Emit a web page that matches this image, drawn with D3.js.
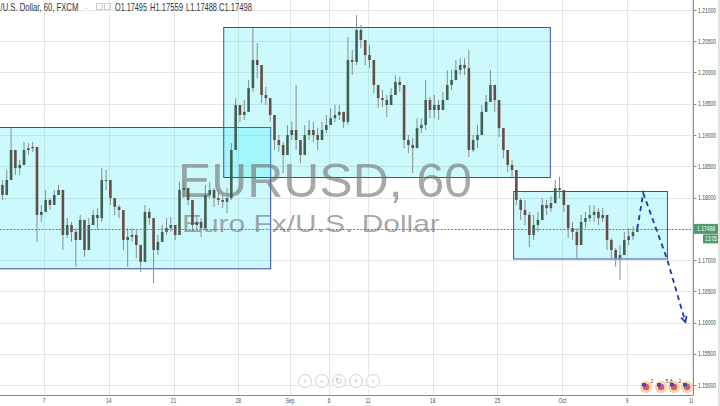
<!DOCTYPE html>
<html><head><meta charset="utf-8">
<script src="https://cdn.jsdelivr.net/npm/d3@7"></script>
<style>html,body{margin:0;padding:0;background:#fff;overflow:hidden}svg{display:block;font-family:"Liberation Sans",Arial,sans-serif}</style>
</head><body><svg id="c" width="720" height="406"></svg>
<script>
// ---- DATA (EUR/USD, hourly chart; bars sampled every 8 trading hours, hour 0 = Mon 7 Aug) ----
const barFirstHour = -85;
const barStepHours = 8;
const firstOpen = 1.1812;
const closes = [1.1820,1.1804,1.1828,1.1876,1.1847,1.1852,1.1876,1.1879,1.1881,1.1772,
1.1777,1.1796,1.1788,1.1804,1.1812,1.1740,1.1756,1.1745,1.1732,1.1764,
1.1716,1.1756,1.1772,1.1767,1.1828,1.1828,1.1799,1.1785,1.1780,1.1732,
1.1737,1.1740,1.1724,1.1697,1.1777,1.1767,1.1716,1.1729,1.1745,1.1751,
1.1756,1.1740,1.1812,1.1815,1.1796,1.1756,1.1761,1.1751,1.1804,1.1812,
1.1799,1.1796,1.1793,1.1799,1.1876,1.1948,1.1932,1.1937,1.1975,1.2020,
1.2012,1.1964,1.1959,1.1932,1.1892,1.1884,1.1868,1.1900,1.1908,1.1892,
1.1868,1.1900,1.1908,1.1900,1.1892,1.1908,1.1916,1.1927,1.1932,1.1937,
1.1921,1.2020,1.2017,1.2068,1.2052,1.2028,1.2020,1.1980,1.1959,1.1956,
1.1948,1.1964,1.1985,1.1980,1.1892,1.1884,1.1879,1.1911,1.1916,1.1956,
1.1940,1.1948,1.1940,1.1956,1.1980,1.1988,1.2004,1.2012,1.2007,1.1876,
1.1892,1.1900,1.1937,1.1953,1.1980,1.1956,1.1911,1.1876,1.1852,1.1844,
1.1796,1.1780,1.1772,1.1740,1.1756,1.1764,1.1788,1.1783,1.1791,1.1815,
1.1812,1.1788,1.1751,1.1745,1.1724,1.1761,1.1767,1.1772,1.1777,1.1767,
1.1772,1.1732,1.1716,1.1703,1.1708,1.1732,1.1738,1.1745,1.17498];
const highs = [1.1836,1.1828,1.1844,1.1911,1.1860,1.1860,1.1889,1.1887,1.1889,1.1876,
1.1788,1.1812,1.1799,1.1812,1.1820,1.1809,1.1767,1.1761,1.1751,1.1772,
1.1756,1.1767,1.1780,1.1783,1.1847,1.1844,1.1820,1.1796,1.1788,1.1777,
1.1751,1.1751,1.1748,1.1724,1.1788,1.1783,1.1761,1.1740,1.1756,1.1767,
1.1769,1.1756,1.1825,1.1828,1.1815,1.1796,1.1772,1.1767,1.1820,1.1825,
1.1815,1.1812,1.1804,1.1815,1.1887,1.1959,1.1948,1.1956,1.1988,1.2071,
1.2047,1.1996,1.1977,1.1948,1.1911,1.1900,1.1889,1.1916,1.1921,1.1980,
1.1892,1.1916,1.1924,1.1921,1.1911,1.1921,1.1932,1.1943,1.1948,1.1948,
1.1937,1.2057,1.2036,1.2092,1.2076,1.2052,1.2044,1.2004,1.1975,1.1972,
1.1964,1.1975,1.1996,1.1994,1.1980,1.1900,1.1895,1.1927,1.1927,1.1988,
1.1961,1.1964,1.1956,1.1969,1.2004,1.2004,1.2020,1.2023,1.2023,1.2036,
1.1900,1.1916,1.1948,1.1964,1.2004,1.1980,1.1940,1.1900,1.1863,1.1860,
1.1841,1.1799,1.1796,1.1777,1.1772,1.1777,1.1799,1.1796,1.1802,1.1828,
1.1833,1.1812,1.1777,1.1761,1.1751,1.1772,1.1777,1.1788,1.1788,1.1783,
1.1783,1.1772,1.1735,1.1719,1.1724,1.1745,1.1751,1.1754,1.17559];
const lows = [1.1804,1.1796,1.1804,1.1836,1.1836,1.1836,1.1852,1.1868,1.1873,1.1729,
1.1761,1.1780,1.1780,1.1791,1.1804,1.1716,1.1735,1.1729,1.1689,1.1748,
1.1705,1.1732,1.1756,1.1748,1.1761,1.1812,1.1788,1.1772,1.1767,1.1716,
1.1689,1.1729,1.1703,1.1681,1.1697,1.1756,1.1663,1.1708,1.1729,1.1740,
1.1745,1.1732,1.1740,1.1799,1.1788,1.1745,1.1748,1.1737,1.1756,1.1799,
1.1785,1.1788,1.1783,1.1775,1.1796,1.1876,1.1921,1.1924,1.1964,1.1969,
1.1991,1.1951,1.1948,1.1921,1.1876,1.1873,1.1839,1.1876,1.1892,1.1876,
1.1855,1.1879,1.1892,1.1889,1.1876,1.1892,1.1903,1.1916,1.1921,1.1924,
1.1911,1.1916,1.1996,1.2012,1.2039,1.2012,1.2007,1.1967,1.1943,1.1945,
1.1929,1.1948,1.1964,1.1969,1.1879,1.1871,1.1839,1.1892,1.1903,1.1908,
1.1927,1.1927,1.1924,1.1940,1.1964,1.1972,1.1988,1.1996,1.1996,1.1865,
1.1873,1.1879,1.1924,1.1940,1.1956,1.1937,1.1897,1.1863,1.1841,1.1833,
1.1788,1.1764,1.1756,1.1721,1.1732,1.1745,1.1772,1.1772,1.1777,1.1796,
1.1799,1.1777,1.1735,1.1732,1.1703,1.1732,1.1751,1.1761,1.1761,1.1756,
1.1761,1.1716,1.1703,1.1689,1.1668,1.1708,1.1724,1.1732,1.17488];

const priceTicks = [1.15,1.155,1.16,1.165,1.17,1.175,1.18,1.185,1.19,1.195,1.20,1.205,1.21];
const timeTickLabels = ["7","14","21","28","Sep","6","11","18","25","Oct","9","16"];
const timeTickHours = [0,120,240,360,456,528,600,720,840,960,1080,1200];

// drawn zones (rectangles)
const zoneStartHour = [-200, 332, 869];
const zoneEndHour   = [419, 937, 1154];
const zoneTop       = [1.1913, 1.2073, 1.1810];
const zoneBottom    = [1.1687, 1.1833, 1.1702];

// projected path (dashed arrow)
const projHours  = [1099, 1110, 1154, 1188];
const projPrices = [1.17498, 1.1807, 1.1702, 1.1601];

const headerSymbol = "/U.S. Dollar, 60, FXCM";
const headerOHLC = ["O1.17495","H1.17559","L1.17488","C1.17498"];
const lastPrice = 1.17498;
const countdown = "13:05";
const watermarkMain = "EURUSD, 60";
const watermarkSub = "Euro Fx/U.S. Dollar";
const eventLabels = ["2","5.8","2"];

// ---- CHART ----
const svg = d3.select("#c");
const plotW = 693, plotH = 395;
const x = d3.scaleLinear().domain([0, 1200]).range([44, 691.8]);
const y = d3.scaleLinear().domain([1.15, 1.21]).range([385, 10]);

// helper: squeeze a text horizontally to a target width with a transform
function fitText(sel, x0, y0, target, anchor) {
  const w = sel.node().getComputedTextLength();
  const k = w > 0 ? target / w : 1;
  sel.attr("x", 0).attr("y", 0).attr("text-anchor", anchor || "start")
     .attr("transform", `translate(${x0},${y0}) scale(${k},1)`);
  return sel;
}

const defs = svg.append("defs");
defs.append("clipPath").attr("id","plot")
  .append("rect").attr("x",0).attr("y",0).attr("width",plotW).attr("height",plotH);
defs.append("clipPath").attr("id","plot2")
  .append("rect").attr("x",0).attr("y",plotH).attr("width",plotW).attr("height",20);

const plot = svg.append("g").attr("clip-path","url(#plot)");

// gridlines
plot.append("g").selectAll("line").data(priceTicks).join("line")
  .attr("x1",0).attr("x2",plotW).attr("y1",d=>Math.round(y(d))+0.5).attr("y2",d=>Math.round(y(d))+0.5)
  .attr("stroke","#e6e6e6").attr("stroke-width",1);
plot.append("g").selectAll("line").data(timeTickHours).join("line")
  .attr("x1",d=>Math.round(x(d))+0.5).attr("x2",d=>Math.round(x(d))+0.5).attr("y1",0).attr("y2",plotH)
  .attr("stroke","#e6e6e6").attr("stroke-width",1);

// zones
const zones = zoneStartHour.map((s,i)=>({s, e:zoneEndHour[i], t:zoneTop[i], b:zoneBottom[i]}));
plot.append("g").selectAll("rect").data(zones).join("rect")
  .attr("x",d=>x(d.s)+0.5).attr("y",d=>Math.round(y(d.t))+0.5)
  .attr("width",d=>x(d.e)-x(d.s)).attr("height",d=>y(d.b)-y(d.t))
  .attr("fill","rgba(0,229,240,0.2)").attr("stroke","#3a4bb3").attr("stroke-width",1);

// watermark
fitText(plot.append("text").attr("font-size",49).attr("fill","rgba(110,110,110,0.6)").text(watermarkMain), 178, 197, 294);
fitText(plot.append("text").attr("font-size",23).attr("fill","rgba(110,110,110,0.6)").text(watermarkSub), 182, 232, 258);

// candles
const bars = closes.map((c,i)=>{
  const o = i===0 ? firstOpen : closes[i-1];
  return {t: barFirstHour + i*barStepHours, o, c, h: Math.max(highs[i],o,c), l: Math.min(lows[i],o,c)};
});
const cg = plot.append("g");
cg.selectAll("line").data(bars).join("line")
  .attr("x1",d=>x(d.t)).attr("x2",d=>x(d.t)).attr("y1",d=>y(d.h)).attr("y2",d=>y(d.l))
  .attr("stroke","#848d8a").attr("stroke-width",1);
cg.selectAll("rect").data(bars).join("rect")
  .attr("x",d=>x(d.t)-1.3).attr("width",2.6)
  .attr("y",d=>y(Math.max(d.o,d.c)))
  .attr("height",d=>Math.max(1, Math.abs(y(d.o)-y(d.c))))
  .attr("fill",d=>d.c>=d.o?"#3f6153":"#6a4b44");

// last price dotted line
plot.append("line").attr("x1",0).attr("x2",plotW).attr("y1",Math.round(y(lastPrice))+0.5).attr("y2",Math.round(y(lastPrice))+0.5)
  .attr("stroke","#6d6d6d").attr("stroke-width",1).attr("stroke-dasharray","1.5,2");

// projection
const proj = projHours.map((h,i)=>[x(h), y(projPrices[i])]);
plot.append("path").attr("d", d3.line()(proj)).attr("fill","none")
  .attr("stroke","#1c38b4").attr("stroke-width",1.8).attr("stroke-dasharray","5,4");
{
  const a = proj[proj.length-2], b = proj[proj.length-1];
  const ang = Math.atan2(b[1]-a[1], b[0]-a[0]);
  const L = 6;
  const p1 = [b[0]-L*Math.cos(ang-0.5), b[1]-L*Math.sin(ang-0.5)];
  const p2 = [b[0]-L*Math.cos(ang+0.5), b[1]-L*Math.sin(ang+0.5)];
  plot.append("path").attr("d", d3.line()([p1,b,p2])).attr("fill","none")
    .attr("stroke","#1c38b4").attr("stroke-width",1.8);
}

// nav buttons
const navSyms = ["‹","−","↻","+","›"];
const ng = svg.append("g");
navSyms.forEach((s,i)=>{
  const cx = 305 + i*17;
  ng.append("circle").attr("cx",cx).attr("cy",381).attr("r",6.5)
    .attr("fill","rgba(255,255,255,0.85)").attr("stroke","#d2d2d2");
  ng.append("text").attr("x",cx).attr("y",384).attr("text-anchor","middle")
    .attr("font-size",9).attr("fill","#bdbdbd").text(s);
});

// event icons
const evX = [646, 661, 674, 687];
const eg = svg.append("g");
evX.forEach((cx)=>{
  eg.append("circle").attr("cx",cx).attr("cy",387).attr("r",6).attr("fill","rgba(247,166,70,0.55)");
  eg.append("circle").attr("cx",cx).attr("cy",387).attr("r",4).attr("fill","#e2595c").attr("stroke","#fff").attr("stroke-width",0.8);
  eg.append("rect").attr("x",cx-4).attr("y",383).attr("width",4).attr("height",3.5).attr("fill","#3752a8");
});
eventLabels.forEach((t,i)=>{
  eg.append("text").attr("x",evX[i]+4.5).attr("y",383).attr("font-size",5).attr("fill","#444").text(t);
});

// axes
svg.append("line").attr("x1",693.5).attr("x2",693.5).attr("y1",0).attr("y2",plotH)
  .attr("stroke","#8a8a8a");
svg.append("line").attr("x1",0).attr("x2",693.5).attr("y1",plotH+0.5).attr("y2",plotH+0.5)
  .attr("stroke","#8a8a8a");
svg.append("rect").attr("x",718).attr("y",0).attr("width",2).attr("height",406).attr("fill","#e3e3e3");

const ticksShown = priceTicks.filter(p=>Math.abs(p-lastPrice)>0.002);
svg.append("g").selectAll("line").data(priceTicks).join("line")
  .attr("x1",693.5).attr("x2",696.5).attr("y1",d=>Math.round(y(d))+0.5).attr("y2",d=>Math.round(y(d))+0.5).attr("stroke","#8a8a8a");
const pl = svg.append("g");
ticksShown.forEach(p=>{
  fitText(pl.append("text").attr("font-size",7.5).attr("fill","#4a4a4a").text(d3.format(".5f")(p)), 698, y(p)+2.6, 18);
});

// time labels
const tg = svg.append("g").attr("clip-path","url(#plot2)");
timeTickHours.forEach((h,i)=>{
  const t = tg.append("text").attr("font-size",6.5).attr("fill","#4a4a4a").text(timeTickLabels[i]);
  const w = t.node().getComputedTextLength();
  fitText(t, x(h), 402.5, w*0.75, "middle");
});

// last price labels
svg.append("rect").attr("x",694).attr("y",y(lastPrice)-5).attr("width",24).attr("height",10).attr("fill","#4f9a6e");
fitText(svg.append("text").attr("font-size",7.5).attr("fill","#fff").text(d3.format(".5f")(lastPrice)), 697, y(lastPrice)+2.6, 18);
svg.append("rect").attr("x",703).attr("y",y(lastPrice)+5.5).attr("width",15).attr("height",9).attr("fill","#4f9a6e");
fitText(svg.append("text").attr("font-size",7.5).attr("fill","#fff").text(countdown), 705, y(lastPrice)+12.6, 12);

// header
const hg = svg.append("g");
fitText(hg.append("text").attr("font-size",10).attr("fill","#333").text(headerSymbol), 0.5, 10.5, 78);
hg.append("text").attr("x",85).attr("y",9.5).attr("font-size",8).attr("fill","#bbb").text("-");
hg.append("rect").attr("x",96.5).attr("y",3.5).attr("width",6).attr("height",6).attr("fill","none").attr("stroke","#ccc");
hg.append("rect").attr("x",104.5).attr("y",3.5).attr("width",6).attr("height",6).attr("fill","none").attr("stroke","#ccc");
const ohlcX = [115, 150, 186, 219];
const ohlcW = [32, 33, 31, 33];
headerOHLC.forEach((s,i)=>{
  fitText(hg.append("text").attr("font-size",10).attr("fill","#333").text(s), ohlcX[i], 10.5, ohlcW[i]);
});
</script></body></html>
